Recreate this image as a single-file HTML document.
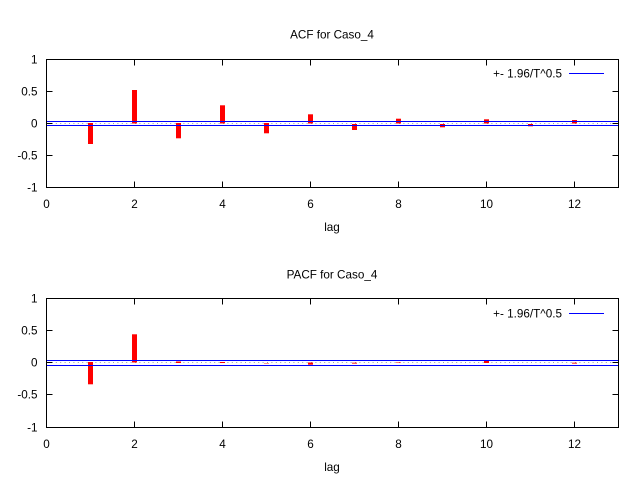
<!DOCTYPE html>
<html><head><meta charset="utf-8"><style>
html,body{margin:0;padding:0;background:#fff;}
svg{display:block;}
text{font-family:"Liberation Sans",sans-serif;font-size:11.7px;fill:#000;}
</style></head><body>
<svg width="640" height="480" viewBox="0 0 640 480" xmlns="http://www.w3.org/2000/svg">
<!-- ACF -->
<g>
<text x="332" y="38.5" text-anchor="middle">ACF for Caso_4</text>
<g text-anchor="end">
<text x="37.5" y="63.5">1</text>
<text x="37.5" y="95.5">0.5</text>
<text x="37.5" y="127.5">0</text>
<text x="37.5" y="159.5">-0.5</text>
<text x="37.5" y="191.5">-1</text>
</g>
<g text-anchor="middle">
<text x="46.5" y="208">0</text>
<text x="134.5" y="208">2</text>
<text x="222.5" y="208">4</text>
<text x="310.5" y="208">6</text>
<text x="398.5" y="208">8</text>
<text x="486.5" y="208">10</text>
<text x="574.5" y="208">12</text>
<text x="332" y="231">lag</text>
</g>
<line x1="47" y1="123.5" x2="618" y2="123.5" stroke="#9a9aaa" stroke-width="1" stroke-dasharray="1,3.4"/>
<g fill="#ff0000">
<rect x="88" y="123" width="5" height="21"/>
<rect x="132" y="90" width="5" height="33.5"/>
<rect x="176" y="123" width="5" height="15.3"/>
<rect x="220" y="105.3" width="5" height="18.2"/>
<rect x="264" y="123" width="5" height="10.3"/>
<rect x="308" y="114.3" width="5" height="9.2"/>
<rect x="352" y="124" width="5" height="6"/>
<rect x="396" y="118.7" width="5" height="4.8"/>
<rect x="440" y="124" width="5" height="3.3"/>
<rect x="484" y="119.3" width="5" height="4.2"/>
<rect x="528" y="124" width="5" height="2.3"/>
<rect x="572" y="120" width="5" height="3.5"/>
</g>
<line x1="47" y1="121.5" x2="618" y2="121.5" stroke="#0000ff" stroke-width="1"/>
<line x1="47" y1="125.5" x2="618" y2="125.5" stroke="#0000ff" stroke-width="1"/>
<rect x="46.5" y="59.5" width="572" height="128" fill="none" stroke="#000" stroke-width="1"/>
<g stroke="#000" stroke-width="1">
<path d="M46.5 91.5h6M46.5 123.5h6M46.5 155.5h6M618.5 91.5h-6M618.5 123.5h-6M618.5 155.5h-6"/>
<path d="M134.5 59.5v6M222.5 59.5v6M310.5 59.5v6M398.5 59.5v6M486.5 59.5v6M574.5 59.5v6"/>
<path d="M134.5 187.5v-6M222.5 187.5v-6M310.5 187.5v-6M398.5 187.5v-6M486.5 187.5v-6M574.5 187.5v-6"/>
</g>
<text x="562" y="77.5" text-anchor="end">+- 1.96/T^0.5</text>
<line x1="569" y1="73.5" x2="604" y2="73.5" stroke="#0000ff" stroke-width="1"/>
</g>

<!-- PACF -->
<g>
<text x="332" y="278.5" text-anchor="middle">PACF for Caso_4</text>
<g text-anchor="end">
<text x="37.5" y="302.5">1</text>
<text x="37.5" y="334.5">0.5</text>
<text x="37.5" y="366.5">0</text>
<text x="37.5" y="398.5">-0.5</text>
<text x="37.5" y="431.5">-1</text>
</g>
<g text-anchor="middle">
<text x="46.5" y="448">0</text>
<text x="134.5" y="448">2</text>
<text x="222.5" y="448">4</text>
<text x="310.5" y="448">6</text>
<text x="398.5" y="448">8</text>
<text x="486.5" y="448">10</text>
<text x="574.5" y="448">12</text>
<text x="332" y="471">lag</text>
</g>
<line x1="47" y1="362.5" x2="618" y2="362.5" stroke="#9a9aaa" stroke-width="1" stroke-dasharray="1,3.4"/>
<g fill="#ff0000">
<rect x="88" y="362" width="5" height="22.3"/>
<rect x="132" y="334.3" width="5" height="28.2"/>
<rect x="176" y="361.5" width="5" height="1.5"/>
<rect x="220" y="362" width="5" height="1"/>
<rect x="264" y="363" width="5" height="0.8" fill-opacity="0.5"/>
<rect x="308" y="362.5" width="5" height="2.2"/>
<rect x="352" y="362.5" width="5" height="1.5" fill-opacity="0.6"/>
<rect x="396" y="362" width="5" height="1" fill-opacity="0.5"/>
<rect x="484" y="361" width="5" height="2"/>
<rect x="572" y="362.5" width="5" height="1.5" fill-opacity="0.6"/>
</g>
<line x1="47" y1="360.5" x2="618" y2="360.5" stroke="#0000ff" stroke-width="1"/>
<line x1="47" y1="365.5" x2="618" y2="365.5" stroke="#0000ff" stroke-width="1"/>
<rect x="46.5" y="298.5" width="572" height="129" fill="none" stroke="#000" stroke-width="1"/>
<g stroke="#000" stroke-width="1">
<path d="M46.5 330.5h6M46.5 362.5h6M46.5 394.5h6M618.5 330.5h-6M618.5 362.5h-6M618.5 394.5h-6"/>
<path d="M134.5 298.5v6M222.5 298.5v6M310.5 298.5v6M398.5 298.5v6M486.5 298.5v6M574.5 298.5v6"/>
<path d="M134.5 427.5v-6M222.5 427.5v-6M310.5 427.5v-6M398.5 427.5v-6M486.5 427.5v-6M574.5 427.5v-6"/>
</g>
<text x="562" y="317.5" text-anchor="end">+- 1.96/T^0.5</text>
<line x1="569" y1="313.5" x2="604" y2="313.5" stroke="#0000ff" stroke-width="1"/>
</g>
</svg>
</body></html>
